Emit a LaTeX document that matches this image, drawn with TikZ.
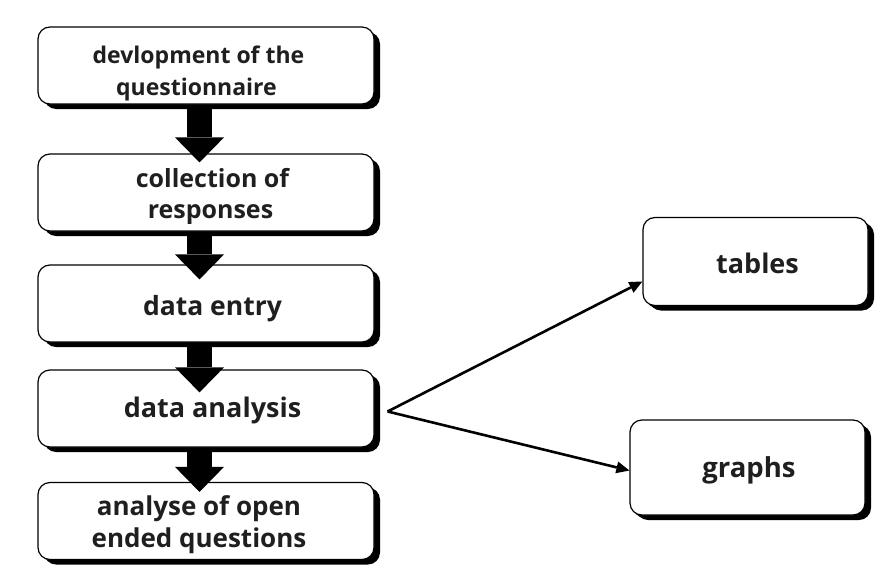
\documentclass[tikz,border=0pt]{standalone}
\usepackage{fontspec}
\setmainfont{Open Sans}
\usetikzlibrary{arrows.meta,shadows}

\begin{document}
\begin{tikzpicture}[x=1pt,y=-1pt,
  box/.style={draw=black, line width=1.2pt, rounded corners=12pt, fill=white, inner sep=0pt,
    drop shadow={shadow xshift=6pt, shadow yshift=-5pt, fill=black, opacity=1}},
  stagebox/.style={box, minimum width=336pt, minimum height=77pt},
  sidebox/.style={box, drop shadow={shadow xshift=3pt, shadow yshift=-3pt, fill=black, opacity=1}},
  lbl/.style={anchor=base, inner sep=0pt, text=black!88, font=\bfseries\fontsize{#1}{#1}\selectfont},
  blockarrow/.style={line width=25pt, black,
    -{Triangle[width=49pt,length=25pt,line width=0pt]}},
  thinarrow/.style={line width=2.6pt, black,
    -{Triangle[width=12pt,length=13pt,line width=0pt]}}
]
\useasboundingbox (0,0) rectangle (879,581);
\fill[white] (0,0) rectangle (879,581);

% main sequence of stages
\node[stagebox] (b1) at (206,65.5) {};
\node[stagebox] (b2) at (206,192.5) {};
\node[stagebox] (b3) at (206,303.5) {};
\node[stagebox] (b4) at (206,408.5) {};
\node[stagebox] (b5) at (206,521) {};

% outputs of the analysis
\node[sidebox, minimum width=225pt, minimum height=88pt] (tab) at (755.5,261.5) {};
\node[sidebox, minimum width=235pt, minimum height=95pt] (gra) at (747.5,467.5) {};

% labels, one line each, placed on their baselines
\node[lbl=23] (t1a) at (198.5,63) {devlopment of the};
\node[lbl=23] (t1b) at (196.5,95) {questionnaire};
\node[lbl=25] (t2a) at (212.5,187) {collection of};
\node[lbl=25] (t2b) at (210.5,218) {responses};
\node[lbl=26.5] (t3) at (212.5,315) {data entry};
\node[lbl=27] (t4) at (212.5,417) {data analysis};
\node[lbl=26] (t5a) at (199,515) {analyse of open};
\node[lbl=26] (t5b) at (199,547) {ended questions};
\node[lbl=27] (t6) at (757.5,273) {tables};
\node[lbl=27.5] (t7) at (749,477) {graphs};

% block arrows between stages
\draw[blockarrow] ([xshift=-6.5pt]b1.south) -- ([xshift=-6.5pt,yshift=-9pt]b2.north);
\draw[blockarrow] ([xshift=-6.5pt]b2.south) -- ([xshift=-6.5pt,yshift=-15pt]b3.north);
\draw[blockarrow] ([xshift=-6.5pt]b3.south) -- ([xshift=-6.5pt,yshift=-23pt]b4.north);
\draw[blockarrow] ([xshift=-6.5pt]b4.south) -- ([xshift=-6.5pt,yshift=-10pt]b5.north);

% branching arrows
\coordinate (fork) at ([xshift=13pt,yshift=-3pt]b4.east);
\draw[thinarrow] (fork) -- ([yshift=-20pt]tab.west);
\draw[thinarrow] (fork) -- ([yshift=-3pt]gra.west);
\end{tikzpicture}
\end{document}
